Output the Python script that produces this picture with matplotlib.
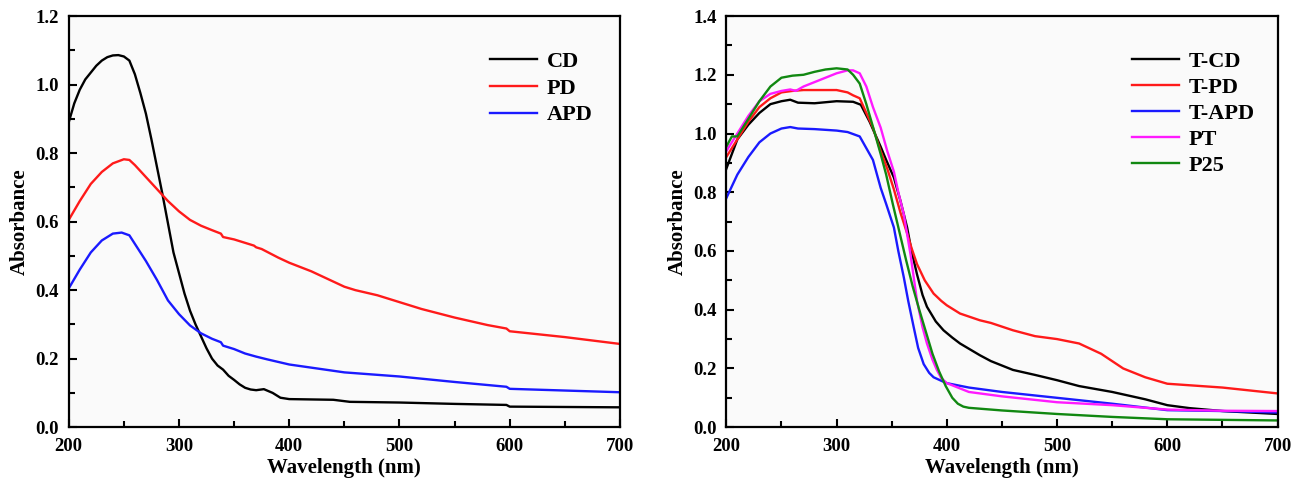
import numpy as np
import matplotlib
matplotlib.use("Agg")
import matplotlib.pyplot as plt
from matplotlib.ticker import MultipleLocator

plt.rcParams['font.family'] = ['Liberation Serif', 'DejaVu Serif']
plt.rcParams['font.weight'] = 'bold'

# left panel: CD, PD, APD
cd_x = [200, 205, 210, 215, 220, 225, 230, 235, 240, 245, 250, 255, 260, 265, 270, 275, 280, 285,
        290, 295, 300, 305, 310, 315, 320, 325, 330, 335, 340, 345, 350, 355, 360, 365, 370, 377,
        385, 392, 400, 440, 455, 500, 550, 597, 600, 700]
cd_y = [0.89, 0.945, 0.985, 1.015, 1.035, 1.055, 1.07, 1.08, 1.085, 1.086, 1.082, 1.07, 1.03, 0.975,
        0.915, 0.84, 0.76, 0.68, 0.595, 0.51, 0.45, 0.39, 0.34, 0.3, 0.265, 0.23, 0.2, 0.18, 0.168,
        0.15, 0.138, 0.125, 0.115, 0.11, 0.108, 0.111, 0.1, 0.086, 0.082, 0.08, 0.074, 0.072, 0.068,
        0.065, 0.06, 0.058]

pd_x = [200, 210, 220, 230, 240, 250, 255, 260, 270, 280, 290, 300, 310, 320, 330, 338, 340, 350,
        360, 368, 370, 375, 390, 400, 420, 440, 450, 460, 480, 500, 520, 550, 580, 597, 600, 650, 700]
pd_y = [0.605, 0.66, 0.71, 0.745, 0.77, 0.782, 0.78, 0.765, 0.73, 0.695, 0.66, 0.63, 0.605, 0.588,
        0.575, 0.565, 0.555, 0.548, 0.538, 0.53, 0.525, 0.52, 0.495, 0.48, 0.455, 0.425, 0.41, 0.4,
        0.385, 0.365, 0.345, 0.32, 0.298, 0.288, 0.28, 0.263, 0.243]

apd_x = [200, 210, 220, 230, 240, 248, 255, 260, 270, 280, 290, 300, 310, 320, 330, 338, 340, 350,
         360, 370, 380, 400, 450, 500, 550, 597, 600, 700]
apd_y = [0.405, 0.46, 0.51, 0.545, 0.565, 0.568, 0.56, 0.535, 0.485, 0.43, 0.37, 0.33, 0.297, 0.274,
         0.258, 0.248, 0.238, 0.228, 0.215, 0.206, 0.198, 0.183, 0.16, 0.148, 0.132, 0.118, 0.112, 0.102]

# right panel: T-CD, T-PD, T-APD, PT, P25
tcd_x = [200, 210, 220, 230, 240, 250, 258, 265, 280, 300, 315, 322, 330, 340, 345, 352, 358, 364,
         368, 373, 378, 382, 390, 397, 405, 412, 430, 440, 460, 480, 500, 520, 550, 580, 600, 620,
         650, 700]
tcd_y = [0.88, 0.98, 1.03, 1.07, 1.1, 1.11, 1.115, 1.105, 1.103, 1.11, 1.108, 1.098, 1.04, 0.955,
         0.91, 0.85, 0.77, 0.68, 0.6, 0.52, 0.45, 0.41, 0.36, 0.33, 0.305, 0.285, 0.245, 0.225, 0.195,
         0.178, 0.16, 0.14, 0.12, 0.095, 0.075, 0.065, 0.055, 0.045]

tpd_x = [200, 210, 220, 230, 240, 250, 260, 270, 300, 310, 315, 321, 327, 333, 340, 346, 352, 358,
         364, 368, 373, 380, 388, 395, 400, 412, 430, 440, 460, 480, 500, 520, 540, 560, 580, 600,
         650, 700]
tpd_y = [0.92, 0.98, 1.04, 1.09, 1.12, 1.14, 1.145, 1.148, 1.148, 1.14, 1.13, 1.12, 1.07, 1.02, 0.94,
         0.88, 0.81, 0.73, 0.66, 0.61, 0.555, 0.5, 0.455, 0.43, 0.415, 0.387, 0.364, 0.355, 0.33,
         0.31, 0.3, 0.285, 0.25, 0.2, 0.17, 0.148, 0.135, 0.115]

tapd_x = [200, 210, 220, 230, 240, 250, 258, 265, 280, 300, 310, 321, 327, 333, 340, 345, 352, 356,
          361, 365, 370, 374, 379, 384, 388, 395, 400, 420, 450, 500, 550, 600, 650, 700]
tapd_y = [0.78, 0.86, 0.92, 0.97, 1.0, 1.017, 1.022, 1.017, 1.015, 1.01, 1.005, 0.99, 0.95, 0.91,
          0.815, 0.76, 0.68, 0.6, 0.51, 0.43, 0.34, 0.27, 0.215, 0.185, 0.17, 0.158, 0.15, 0.135,
          0.12, 0.1, 0.08, 0.058, 0.055, 0.05]

pt_x = [200, 210, 220, 230, 240, 250, 258, 263, 270, 280, 290, 300, 310, 315, 321, 327, 333, 340,
        346, 352, 356, 361, 367, 373, 378, 382, 387, 391, 395, 400, 420, 450, 500, 550, 600, 650, 700]
pt_y = [0.94, 1.0, 1.06, 1.11, 1.135, 1.145, 1.15, 1.145, 1.16, 1.175, 1.19, 1.205, 1.215, 1.215,
        1.205, 1.16, 1.09, 1.02, 0.94, 0.87, 0.8, 0.725, 0.59, 0.43, 0.34, 0.285, 0.23, 0.195, 0.167,
        0.15, 0.12, 0.105, 0.085, 0.075, 0.06, 0.056, 0.055]

p25_x = [200, 205, 210, 220, 230, 240, 250, 260, 270, 280, 290, 300, 310, 315, 321, 327, 333, 340,
         345, 351, 357, 363, 369, 375, 381, 387, 393, 399, 405, 410, 415, 420, 450, 500, 550, 600, 700]
p25_y = [0.955, 0.99, 0.99, 1.05, 1.11, 1.16, 1.19, 1.197, 1.2, 1.21, 1.218, 1.222, 1.218, 1.2, 1.17,
         1.1, 1.023, 0.93, 0.86, 0.76, 0.665, 0.57, 0.48, 0.4, 0.325, 0.25, 0.19, 0.14, 0.1, 0.08,
         0.07, 0.066, 0.057, 0.045, 0.035, 0.027, 0.023]


def style(ax, ymax, ystep):
    ax.set_xlim(200, 700)
    ax.set_ylim(0, ymax)
    ax.xaxis.set_major_locator(MultipleLocator(100))
    ax.xaxis.set_minor_locator(MultipleLocator(50))
    ax.yaxis.set_major_locator(MultipleLocator(ystep))
    ax.yaxis.set_minor_locator(MultipleLocator(ystep / 2))
    ax.tick_params(which='both', direction='in', width=1.5, labelsize=13.5, top=False, right=False)
    ax.tick_params(which='major', length=6)
    ax.tick_params(which='minor', length=4)
    ax.tick_params(axis='x', pad=8)
    ax.tick_params(axis='y', pad=7)
    for s in ax.spines.values():
        s.set_linewidth(1.6)
    ax.set_facecolor('#fafafa')
    ax.set_xlabel('Wavelength (nm)', fontsize=15, fontweight='bold', labelpad=2)
    ax.set_ylabel('Absorbance', fontsize=15, fontweight='bold', labelpad=4)
    ax.yaxis.set_major_formatter(plt.FormatStrFormatter('%.1f'))


fig = plt.figure(figsize=(12.97, 4.86), dpi=100)
ax1 = fig.add_axes([0.053, 0.121, 0.425, 0.846])
ax2 = fig.add_axes([0.560, 0.121, 0.425, 0.846])

ax1.plot(cd_x, cd_y, color='black', lw=1.7, label='CD')
ax1.plot(pd_x, pd_y, color='#ff1a1a', lw=1.7, label='PD')
ax1.plot(apd_x, apd_y, color='#1a1aff', lw=1.7, label='APD')
style(ax1, 1.2, 0.2)
ax1.legend(loc='upper left', bbox_to_anchor=(0.728, 0.962), frameon=False, fontsize=16,
           handlelength=2.1, handletextpad=0.45, labelspacing=0.27)

ax2.plot(tcd_x, tcd_y, color='black', lw=1.7, label='T-CD')
ax2.plot(tpd_x, tpd_y, color='#ff1a1a', lw=1.7, label='T-PD')
ax2.plot(tapd_x, tapd_y, color='#1a1aff', lw=1.7, label='T-APD')
ax2.plot(pt_x, pt_y, color='#ff1aff', lw=1.7, label='PT')
ax2.plot(p25_x, p25_y, color='#118811', lw=1.7, label='P25')
style(ax2, 1.4, 0.2)
ax2.legend(loc='upper left', bbox_to_anchor=(0.7, 0.962), frameon=False, fontsize=16,
           handlelength=2.1, handletextpad=0.45, labelspacing=0.24)

fig.savefig('out.png', dpi=100)
